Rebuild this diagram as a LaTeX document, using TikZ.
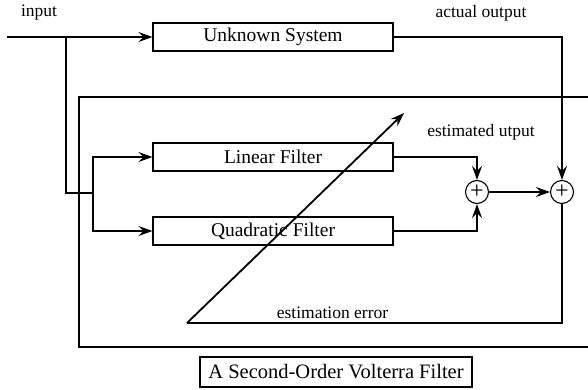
\documentclass[tikz,border=0pt]{standalone}
\usepackage{fontspec}
\setmainfont{Liberation Serif}
\usetikzlibrary{arrows.meta}
\begin{document}
\begin{tikzpicture}[x=1pt,y=-1pt,
  wire/.style={line width=1.8pt,line join=miter},
  arr/.style={wire,-{Stealth[length=14pt,width=10pt,inset=5pt]}},
  blockbox/.style={draw,line width=1.1pt,minimum width=240pt,minimum height=28pt,inner sep=0pt,font=\fontsize{19.5}{22}\selectfont},
  sumnode/.style={draw,circle,line width=1.1pt,minimum size=23pt,inner sep=0pt,font=\fontsize{24}{24}\selectfont},
  lbl/.style={inner sep=0pt,font=\fontsize{17.5}{20}\selectfont},
  captionbox/.style={draw,line width=1.1pt,minimum width=272pt,minimum height=30pt,inner sep=0pt,font=\fontsize{20.5}{24}\selectfont}]
\useasboundingbox (0,0) rectangle (588,390);

% blocks
\node[blockbox] (unk) at (273,37) {Unknown System};
\node[blockbox] (lin) at (273,157) {Linear Filter};
\node[blockbox] (quad) at (273,231) {Quadratic Filter};
\node[sumnode] (s1) at (477,192) {\raisebox{1pt}{+}};
\node[sumnode] (s2) at (562,192) {\raisebox{1pt}{+}};

% labels
\node[lbl] (linput) at (39,13) {input};
\node[lbl] (lactual) at (481,13) {actual output};
\node[lbl] (lest) at (481,132) {estimated utput};
\node[lbl] (lerr) at (332.5,313) {estimation error};
\node[captionbox] (cap) at (336,372) {A Second-Order Volterra Filter};

% coordinates
\coordinate (in) at (7,37);
\coordinate (b1) at (66,37);
\coordinate (b3) at (93,193);
\coordinate (e) at (187,323);
\coordinate (tip) at (404,113);
\coordinate (frTR) at (588,97);
\coordinate (frTL) at (79,97);
\coordinate (frBL) at (79,347);
\coordinate (frBR) at (588,347);

% frame
\draw[wire] (frTR) -- (frTL) -- (frBL) -- (frBR);

% input distribution
\draw[arr] (in) -- (unk.west);
\draw[wire] (b1) |- (b3);
\draw[arr] (b3) |- (lin.west);
\draw[arr] (b3) |- (quad.west);

% outputs
\draw[arr] (unk.east) -| (s2.north);
\draw[arr] (lin.east) -| (s1.north);
\draw[arr] (quad.east) -| (s1.south);
\draw[arr] (s1.east) -- (s2.west);

% error feedback
\draw[wire] (s2.south) |- (e);
\draw[arr] (e) -- (tip);
\end{tikzpicture}
\end{document}
